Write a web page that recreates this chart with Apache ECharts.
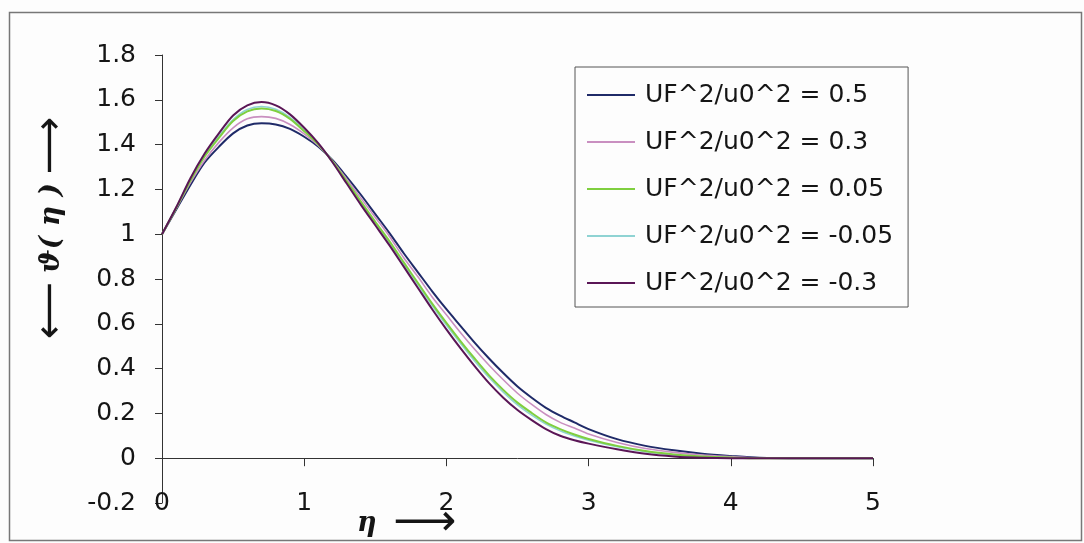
<!DOCTYPE html>
<html>
<head>
<meta charset="utf-8">
<script src="https://cdn.jsdelivr.net/npm/echarts@6/dist/echarts.min.js"></script>
<style>
  html, body { margin: 0; padding: 0; background: #fdfdfd; }
  #chart { width: 1084px; height: 543px; }
</style>
</head>
<body>
<div id="chart"></div>
<script>
// eta positions (x values)
var eta = [0, 0.1, 0.2, 0.3, 0.4, 0.5, 0.6, 0.7, 0.8, 0.9,
           1.0, 1.1, 1.2, 1.3, 1.4, 1.5, 1.6, 1.7, 1.8, 1.9,
           2.0, 2.1, 2.2, 2.3, 2.4, 2.5, 2.6, 2.7, 2.8, 2.9,
           3.0, 3.2, 3.4, 3.6, 3.8, 4.0, 4.2, 4.5, 5.0];

var seriesNames = ['UF^2/u0^2 = 0.5', 'UF^2/u0^2 = 0.3', 'UF^2/u0^2 = 0.05',
                   'UF^2/u0^2 = -0.05', 'UF^2/u0^2 = -0.3'];

var theta_p05 = [1.0, 1.11, 1.22, 1.32, 1.39, 1.45, 1.485, 1.495, 1.49, 1.47,
                 1.435, 1.39, 1.33, 1.255, 1.175, 1.09, 1.005, 0.915, 0.83, 0.745,
                 0.665, 0.59, 0.515, 0.445, 0.38, 0.32, 0.27, 0.225, 0.19, 0.16,
                 0.13, 0.085, 0.055, 0.035, 0.02, 0.01, 0.002, 0, 0];

var theta_p03 = [1.0, 1.115, 1.23, 1.33, 1.41, 1.475, 1.515, 1.525, 1.517, 1.49,
                 1.448, 1.395, 1.327, 1.245, 1.16, 1.075, 0.99, 0.895, 0.81, 0.72,
                 0.64, 0.56, 0.485, 0.415, 0.35, 0.29, 0.24, 0.195, 0.16, 0.135,
                 0.108, 0.07, 0.043, 0.026, 0.014, 0.007, 0.001, 0, 0];

var theta_p005 = [1.0, 1.117, 1.24, 1.347, 1.43, 1.505, 1.548, 1.561, 1.55, 1.515,
                  1.46, 1.40, 1.324, 1.235, 1.145, 1.055, 0.968, 0.874, 0.782, 0.69,
                  0.604, 0.522, 0.444, 0.37, 0.305, 0.248, 0.202, 0.16, 0.13, 0.106,
                  0.086, 0.055, 0.032, 0.017, 0.008, 0.003, 0, 0, 0];

var theta_m005 = [1.0, 1.118, 1.243, 1.351, 1.437, 1.512, 1.557, 1.57, 1.558, 1.522,
                  1.465, 1.402, 1.323, 1.232, 1.14, 1.05, 0.962, 0.867, 0.774, 0.682,
                  0.594, 0.512, 0.433, 0.36, 0.295, 0.238, 0.192, 0.152, 0.122, 0.099,
                  0.08, 0.051, 0.029, 0.015, 0.006, 0.002, 0, 0, 0];

var theta_m03 = [1.0, 1.12, 1.25, 1.36, 1.45, 1.53, 1.575, 1.59, 1.575, 1.535,
                 1.475, 1.405, 1.32, 1.225, 1.13, 1.04, 0.95, 0.855, 0.76, 0.665,
                 0.575, 0.49, 0.41, 0.335, 0.27, 0.215, 0.17, 0.13, 0.10, 0.08,
                 0.065, 0.04, 0.02, 0.008, 0.002, 0, 0, 0, 0];

var xTickLabels = ['0', '1', '2', '3', '4', '5'];
var yTickLabels = ['-0.2', '0', '0.2', '0.4', '0.6', '0.8', '1', '1.2', '1.4', '1.6', '1.8'];

function pairs(ys) {
  return eta.map(function (x, i) { return [x, ys[i]]; });
}

var allData = [theta_p05, theta_p03, theta_p005, theta_m005, theta_m03];
var colors = ['#1f2a68', '#c98fc0', '#7fcf3f', '#8fd3d3', '#5a1656'];
var widths = [2, 1.6, 2, 1.6, 2];
var zs = [2, 2, 4, 3, 5];

var series = allData.map(function (ys, i) {
  return {
    name: seriesNames[i],
    type: 'line',
    data: pairs(ys),
    symbol: 'none',
    smooth: 0.3,
    z: zs[i],
    lineStyle: { color: colors[i], width: widths[i] },
    itemStyle: { color: colors[i] }
  };
});

var chart = echarts.init(document.getElementById('chart'));
chart.setOption({
  backgroundColor: '#fdfdfd',
  animation: false,
  grid: { left: 162, right: 211, top: 55, bottom: 40, containLabel: false },
  xAxis: {
    type: 'value',
    min: 0, max: 5, interval: 1,
    axisLine: { onZero: true, lineStyle: { color: '#333', width: 1 } },
    axisTick: { show: true, length: 8, lineStyle: { color: '#333' } },
    splitLine: { show: false },
    axisLabel: {
      margin: 0,
      verticalAlign: 'middle',
      fontFamily: 'DejaVu Sans',
      fontSize: 25,
      color: '#151515',
      formatter: function (v) { return xTickLabels[Math.round(v)]; }
    }
  },
  yAxis: {
    type: 'value',
    min: -0.2, max: 1.8, interval: 0.2,
    axisLine: { show: true, lineStyle: { color: '#333', width: 1 } },
    axisTick: { show: true, length: 7, lineStyle: { color: '#333' } },
    splitLine: { show: false },
    axisLabel: {
      margin: 26,
      fontFamily: 'DejaVu Sans',
      fontSize: 25,
      color: '#151515',
      formatter: function (v) { return yTickLabels[Math.round((v + 0.2) / 0.2)]; }
    }
  },
  legend: {
    orient: 'vertical',
    left: 575,
    top: 67,
    data: seriesNames,
    icon: 'rect',
    itemWidth: 48,
    itemHeight: 2,
    itemGap: 17,
    padding: [13, 15, 9, 12],
    borderColor: '#555',
    borderWidth: 1,
    backgroundColor: '#fdfdfd',
    textStyle: {
      fontFamily: 'DejaVu Sans',
      fontSize: 25,
      color: '#151515',
      lineHeight: 30,
      padding: [0, 0, 0, 5]
    }
  },
  graphic: [
    {
      type: 'rect',
      left: 7, top: 10,
      shape: { width: 1072, height: 528 },
      style: { fill: 'none', stroke: '#777', lineWidth: 1.5 },
      silent: true, z: -1
    },
    {
      type: 'text',
      x: 52, y: 228,
      rotation: Math.PI / 2,
      style: {
        text: '{a|⟵}{s| }{t|ϑ( η )}{s| }{a|⟶}',
        align: 'center',
        verticalAlign: 'middle',
        rich: {
          a: { fontFamily: 'DejaVu Sans', fontSize: 40, fill: '#151515' },
          s: { fontFamily: 'DejaVu Sans', fontSize: 28, fill: '#151515' },
          t: { fontFamily: 'DejaVu Serif', fontStyle: 'italic', fontWeight: 'bold', fontSize: 28, fill: '#151515' }
        }
      }
    },
    {
      type: 'text',
      x: 357, y: 524,
      style: {
        text: '{t|η}{s|  }{a|⟶}',
        align: 'left',
        verticalAlign: 'middle',
        rich: {
          a: { fontFamily: 'DejaVu Sans', fontSize: 44, fill: '#151515' },
          s: { fontFamily: 'DejaVu Sans', fontSize: 26, fill: '#151515' },
          t: { fontFamily: 'DejaVu Serif', fontStyle: 'italic', fontWeight: 'bold', fontSize: 27, fill: '#151515' }
        }
      }
    }
  ],
  series: series
});
</script>
</body>
</html>
